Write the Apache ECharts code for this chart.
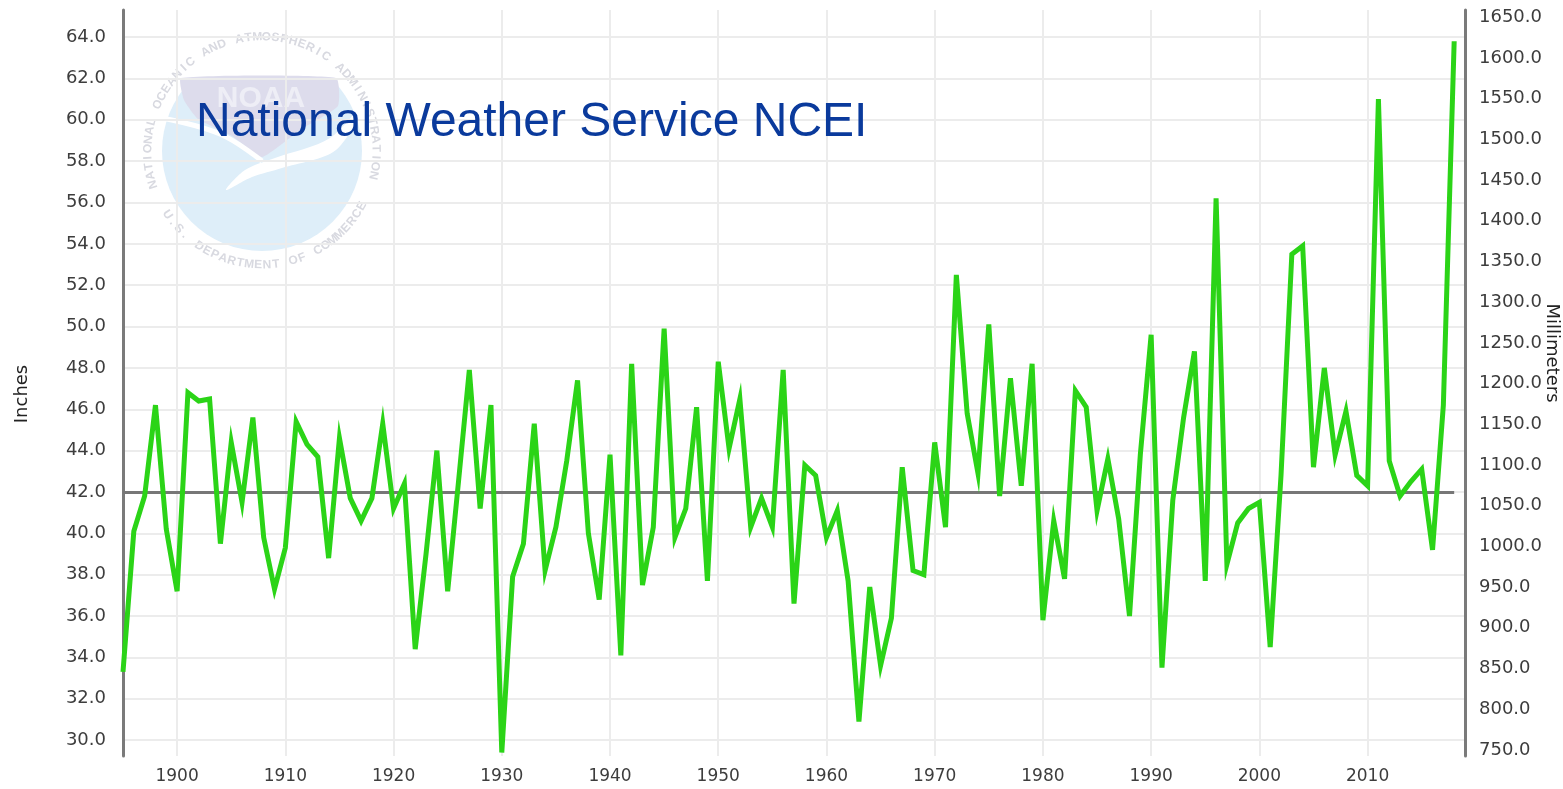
<!DOCTYPE html>
<html>
<head>
<meta charset="utf-8">
<title>Annual Precipitation</title>
<script src="https://cdn.jsdelivr.net/npm/echarts@6/dist/echarts.min.js"></script>
<style>
html, body { margin: 0; padding: 0; background: #fff; }
#chartBox { width: 1563px; height: 789px; }
</style>
</head>
<body>
<div id="chartBox"></div>
<script>
// annual precipitation, inches
var firstYear = 1895;
var precip1890s = [33.3, 40.1, 41.8, 46.2, 40.2];
var precip1900s = [37.2, 46.8, 46.4, 46.5, 39.5, 44.4, 41.5, 45.6, 39.8, 37.3];
var precip1910s = [39.3, 45.4, 44.3, 43.7, 38.8, 44.6, 41.7, 40.6, 41.7, 45.3];
var precip1920s = [41.2, 42.4, 34.4, 39.0, 44.0, 37.2, 42.5, 47.9, 41.2, 46.2];
var precip1930s = [29.4, 37.9, 39.5, 45.3, 38.2, 40.3, 43.5, 47.4, 40.0, 36.8];
var precip1940s = [43.8, 34.1, 48.2, 37.5, 40.3, 49.9, 39.8, 41.2, 46.1, 37.7];
var precip1950s = [48.3, 44.1, 46.5, 40.3, 41.7, 40.3, 47.9, 36.6, 43.3, 42.8];
var precip1960s = [39.8, 41.1, 37.7, 30.9, 37.4, 33.6, 35.9, 43.2, 38.2, 38.0];
var precip1970s = [44.4, 40.3, 52.5, 45.8, 42.9, 50.1, 41.8, 47.5, 42.3, 48.2];
var precip1980s = [35.8, 40.6, 37.8, 46.9, 46.1, 41.1, 43.6, 40.7, 36.0, 43.8];
var precip1990s = [49.6, 33.5, 41.6, 45.6, 48.8, 37.7, 56.2, 38.5, 40.5, 41.2];
var precip2000s = [41.5, 34.5, 42.8, 53.5, 53.9, 43.2, 48.0, 43.8, 45.9, 42.8];
var precip2010s = [42.3, 61.0, 43.5, 41.8, 42.5, 43.1, 39.2, 46.2, 63.8];

var meanInches = 42.0;
var inchExtent = [29.23, 65.31];   // plot bounds on the inch axis
var mmPerInch = 25.4;
var titleText = 'National Weather Service NCEI';

var precipInches = [].concat(precip1890s, precip1900s, precip1910s, precip1920s,
    precip1930s, precip1940s, precip1950s, precip1960s, precip1970s,
    precip1980s, precip1990s, precip2000s, precip2010s);
var years = [];
for (var i = 0; i < precipInches.length; i++) {
    years.push(firstYear + i);
}
var lastYear = years[years.length - 1];
var lineData = years.map(function (y, i) { return [y, precipInches[i]]; });

var dom = document.getElementById('chartBox');
var myChart = echarts.init(dom);

// faded NOAA seal behind the plot
var sealX = 262, sealY = 151;
function ringLetters(text, startDeg, stepDeg, onTop) {
    var out = [];
    for (var k = 0; k < text.length; k++) {
        var deg = onTop ? startDeg - k * stepDeg : startDeg + k * stepDeg;
        var rad = deg * Math.PI / 180;
        out.push({
            type: 'text',
            x: sealX + 114 * Math.cos(rad),
            y: sealY - 114 * Math.sin(rad),
            rotation: (onTop ? deg - 90 : deg - 270) * Math.PI / 180,
            silent: true,
            style: {
                text: text[k],
                fill: '#d8d9e0',
                font: 'bold 12px "Liberation Sans"',
                align: 'center',
                verticalAlign: 'middle'
            }
        });
    }
    return out;
}

var sealParts = [
    {
        type: 'circle',
        shape: { cx: sealX, cy: sealY, r: 100 },
        style: { fill: '#deeef9' }
    },
    {
        type: 'rect',
        shape: { x: 158, y: 46, width: 210, height: 32 },
        style: { fill: '#ffffff' }
    },
    {
        type: 'polygon',
        shape: {
            points: [[181, 78], [336, 78], [338, 106], [300, 130], [262, 157], [232, 136], [198, 119], [184, 100]],
            smooth: 0.15
        },
        style: { fill: '#dddcec' }
    },
    {
        type: 'polygon',
        shape: {
            points: [[368, 98], [330, 138], [275, 158], [245, 170], [226, 190], [252, 177], [282, 168], [336, 150]],
            smooth: 0.3
        },
        style: { fill: '#ffffff' }
    },
    {
        type: 'polyline',
        shape: { points: [[162, 118], [220, 134], [262, 161]], smooth: 0.4 },
        style: { stroke: '#ffffff', lineWidth: 5, fill: null }
    },
    {
        type: 'text',
        x: 261, y: 99,
        style: {
            text: 'NOAA', fill: '#eeeef6', font: 'bold 30px "Liberation Sans"',
            align: 'center', verticalAlign: 'middle'
        }
    }
].concat(
    ringLetters('NATIONAL OCEANIC AND ATMOSPHERIC ADMINISTRATION', 197, 4.55, true),
    ringLetters('U.S. DEPARTMENT OF COMMERCE', 214, 4.5, false)
);

var labelFont = 'DejaVu Sans';
var labelColor = '#3d3d3d';

option = {
    animation: false,
    backgroundColor: '#ffffff',
    grid: { left: 123, right: 98, top: 10, bottom: 33, outerBoundsMode: 'none' },
    graphic: [
        { type: 'group', z: -10, silent: true, children: sealParts },
        {
            type: 'text', z: 100, left: 196, top: 99,
            style: {
                text: titleText, fill: '#0a3a9c',
                font: '48px "Liberation Sans"'
            }
        }
    ],
    xAxis: {
        type: 'value',
        min: firstYear,
        max: lastYear + 1,
        splitNumber: 12,
        axisLine: { show: false },
        axisTick: { show: false },
        axisLabel: {
            showMinLabel: false, showMaxLabel: false,
            margin: 12, color: labelColor, fontSize: 17, fontFamily: labelFont,
            formatter: function (v) { return String(v); }
        },
        splitLine: { show: true, lineStyle: { color: '#ececec', width: 2 } }
    },
    yAxis: [
        {
            type: 'value',
            position: 'left',
            min: inchExtent[0],
            max: inchExtent[1],
            splitNumber: 18,
            name: 'Inches',
            nameLocation: 'middle',
            nameGap: 92,
            nameRotate: 90,
            nameMoveOverlap: false,
            nameTextStyle: { color: '#222', fontSize: 18, fontFamily: labelFont, padding: [0, 22, 0, 0] },
            axisLine: { show: true, onZero: false, lineStyle: { color: '#7a7a7a', width: 3 } },
            axisTick: { show: false },
            axisLabel: {
                showMinLabel: false, showMaxLabel: false,
                margin: 17, color: labelColor, fontSize: 18, fontFamily: labelFont,
                formatter: function (v) { return v.toFixed(1); }
            },
            splitLine: { show: true, showMinLine: false, showMaxLine: false, lineStyle: { color: '#ececec', width: 2 } }
        },
        {
            type: 'value',
            position: 'right',
            min: inchExtent[0] * mmPerInch,
            max: inchExtent[1] * mmPerInch,
            splitNumber: 18,
            name: 'Millimeters',
            nameLocation: 'middle',
            nameGap: 78,
            nameRotate: -90,
            nameMoveOverlap: false,
            nameTextStyle: { color: '#222', fontSize: 18, fontFamily: labelFont, padding: [0, 60, 0, 0] },
            axisLine: { show: true, onZero: false, lineStyle: { color: '#7a7a7a', width: 3 } },
            axisTick: { show: false },
            axisLabel: {
                showMinLabel: false, showMaxLabel: false,
                margin: 14, color: labelColor, fontSize: 18, fontFamily: labelFont,
                formatter: function (v) { return v.toFixed(1); }
            },
            splitLine: { show: false }
        }
    ],
    series: [
        {
            type: 'line',
            name: 'Precipitation',
            data: lineData,
            yAxisIndex: 0,
            showSymbol: false,
            z: 5,
            lineStyle: { color: '#2bd417', width: 5, join: 'miter', miterLimit: 8 },
            markLine: {
                silent: true,
                symbol: 'none',
                label: { show: false },
                lineStyle: { color: '#777777', width: 3, type: 'solid' },
                data: [[{ coord: [firstYear, meanInches] }, { coord: [lastYear, meanInches] }]]
            }
        }
    ]
};

if (option && typeof option === 'object') {
    myChart.setOption(option, true);
}
</script>
</body>
</html>
